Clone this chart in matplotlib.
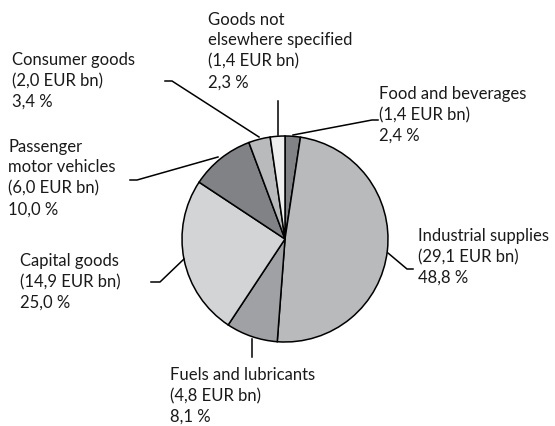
import matplotlib.pyplot as plt

# data
categories = ["Food and beverages", "Industrial supplies", "Fuels and lubricants",
              "Capital goods", "Passenger\nmotor vehicles", "Consumer goods",
              "Goods not\nelsewhere specified"]
values_bn = [1.4, 29.1, 4.8, 14.9, 6.0, 2.0, 1.4]
shares = [2.4, 48.8, 8.1, 25.0, 10.0, 3.4, 2.3]
colors = ["#808285", "#b8babc", "#9fa1a4", "#d3d4d6", "#808285", "#b8babc", "#eeeeee"]

W, H = 555, 427
fig = plt.figure(figsize=(W / 100, H / 100), dpi=100)
ax = fig.add_axes([0, 0, 1, 1])
ax.set_xlim(0, W)
ax.set_ylim(0, H)
ax.set_aspect("equal")
ax.axis("off")

def Y(y):
    # pixel row -> data y
    return H - y

cx, cy, r = 285, 240, 103
ax.pie(shares, colors=colors, startangle=90, counterclock=False,
       center=(cx, Y(cy)), radius=r,
       wedgeprops=dict(edgecolor="black", linewidth=1.1))
ax.set_xlim(0, W)
ax.set_ylim(0, H)

def fmt(v):
    return ("%.1f" % v).replace(".", ",")

# label positions (left x, center y of block) and leader lines in pixels
label_pos = [(379, 115), (418, 257), (170, 396), (20, 282), (8, 178), (12, 81), (208, 51)]
leaders = [
    [(293, 136), (372, 121), (378, 121)],
    [(388, 254), (407, 270), (413, 270)],
    [(252, 340), (252, 358)],
    [(184, 260), (160, 283), (151, 283)],
    [(218, 158), (137, 181), (130, 181)],
    [(259, 138), (172, 82), (165, 82)],
    [(278, 136), (278, 102)],
]

for cat, v, s, (lx, ly), pts in zip(categories, values_bn, shares, label_pos, leaders):
    txt = "%s\n(%s EUR bn)\n%s %%" % (cat, fmt(v), fmt(s))
    ax.text(lx, Y(ly), txt, ha="left", va="center", fontsize=12,
            family="Lato", linespacing=1.38, color="#1a1a1a")
    ax.plot([p[0] for p in pts], [Y(p[1]) for p in pts], color="black", lw=1.1)

fig.savefig("out.png", dpi=100)
